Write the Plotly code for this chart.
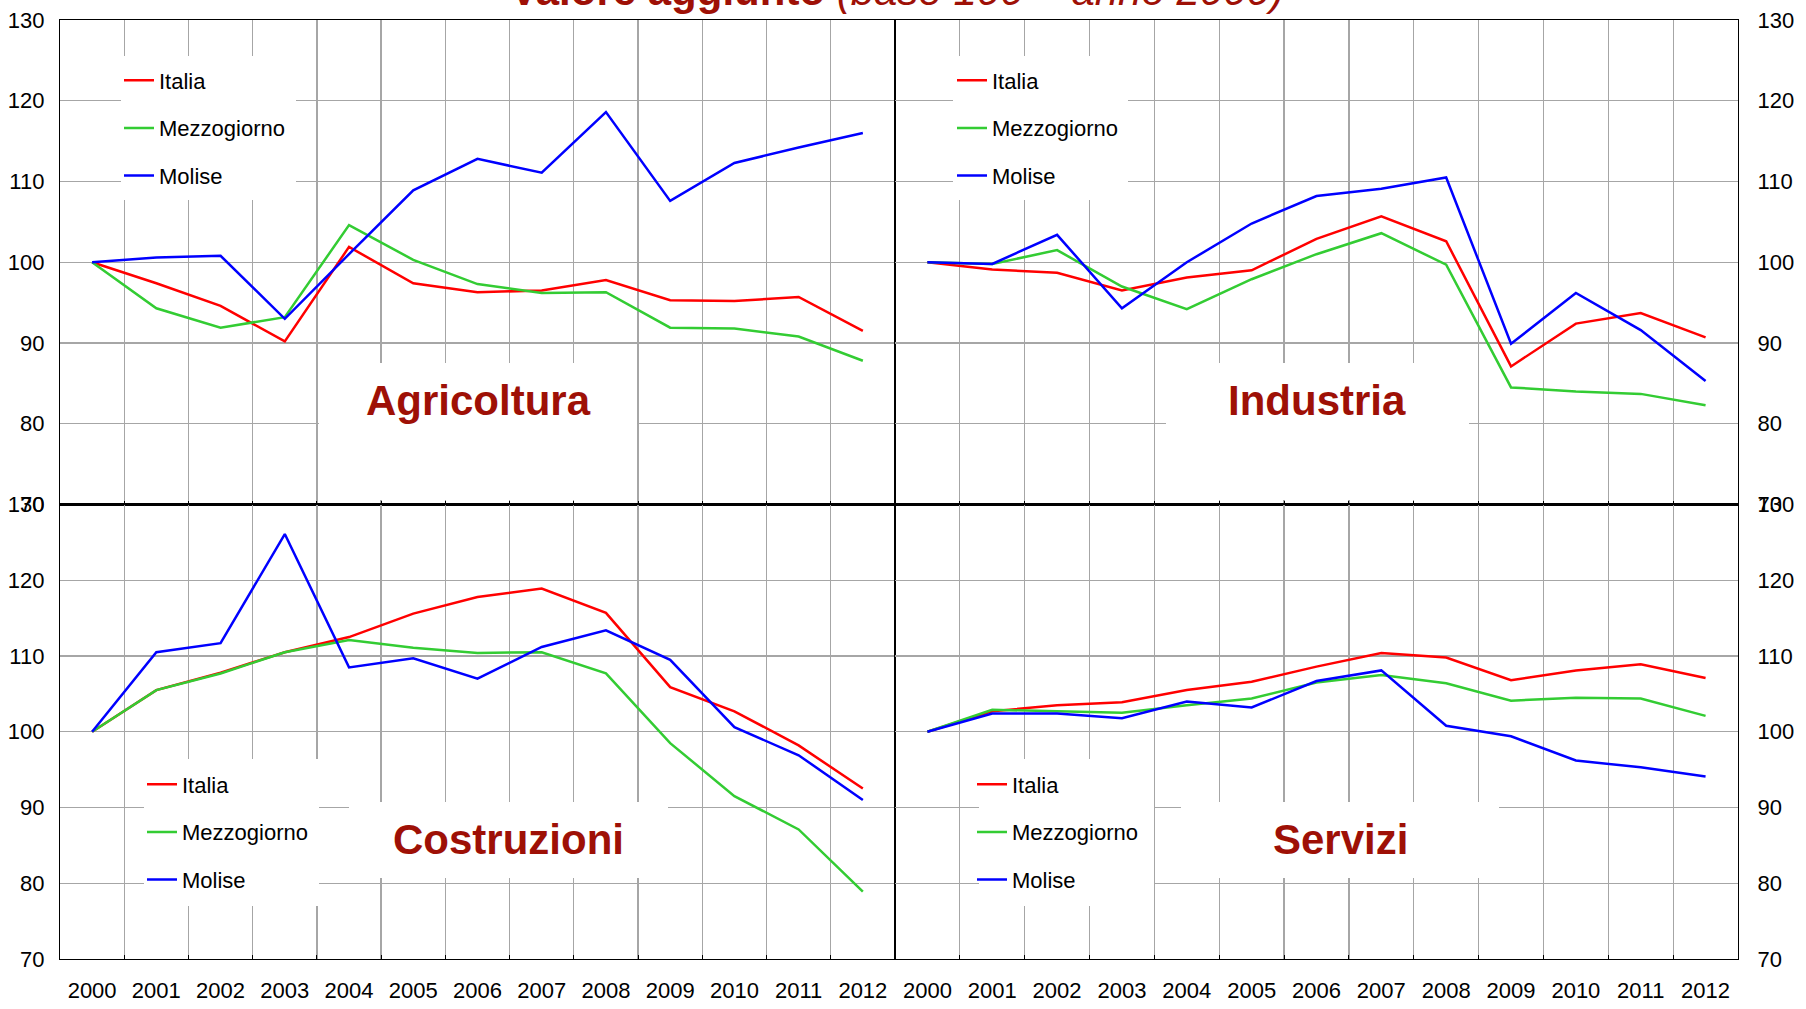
import plotly.graph_objects as go
from plotly.subplots import make_subplots

years = ["2000", "2001", "2002", "2003", "2004", "2005", "2006",
         "2007", "2008", "2009", "2010", "2011", "2012"]
series_names = ["Italia", "Mezzogiorno", "Molise"]
panel_titles = ["Agricoltura", "Industria", "Costruzioni", "Servizi"]
y_ticks = [70, 80, 90, 100, 110, 120, 130]

agr_italia = [100, 97.4, 94.6, 90.2, 101.9, 97.4, 96.3, 96.5, 97.8, 95.3, 95.2, 95.7, 91.5]
agr_mezzogiorno = [100, 94.3, 91.9, 93.2, 104.6, 100.3, 97.3, 96.2, 96.3, 91.9, 91.8, 90.8, 87.8]
agr_molise = [100, 100.6, 100.8, 93.0, 101.0, 108.9, 112.8, 111.1, 118.6, 107.6, 112.3, 114.2, 116.0]

ind_italia = [100, 99.1, 98.7, 96.5, 98.1, 99.0, 102.9, 105.7, 102.6, 87.1, 92.4, 93.7, 90.7]
ind_mezzogiorno = [100, 99.8, 101.5, 97.0, 94.2, 97.9, 101.0, 103.6, 99.7, 84.5, 84.0, 83.7, 82.3]
ind_molise = [100, 99.8, 103.4, 94.3, 100.0, 104.8, 108.2, 109.1, 110.5, 89.9, 96.2, 91.6, 85.3]

cos_italia = [100, 105.5, 107.8, 110.5, 112.5, 115.6, 117.8, 118.9, 115.7, 105.9, 102.7, 98.2, 92.5]
cos_mezzogiorno = [100, 105.5, 107.7, 110.5, 112.1, 111.1, 110.4, 110.5, 107.7, 98.5, 91.5, 87.1, 78.9]
cos_molise = [100, 110.5, 111.7, 126.1, 108.5, 109.7, 107.0, 111.2, 113.4, 109.5, 100.6, 96.9, 91.0]

ser_italia = [100, 102.7, 103.5, 103.9, 105.5, 106.6, 108.6, 110.4, 109.8, 106.8, 108.1, 108.9, 107.1]
ser_mezzogiorno = [100, 102.9, 102.7, 102.5, 103.5, 104.4, 106.5, 107.5, 106.4, 104.1, 104.5, 104.4, 102.1]
ser_molise = [100, 102.4, 102.4, 101.8, 104.0, 103.2, 106.7, 108.1, 100.8, 99.4, 96.2, 95.3, 94.1]

panels = [
    [agr_italia, agr_mezzogiorno, agr_molise],
    [ind_italia, ind_mezzogiorno, ind_molise],
    [cos_italia, cos_mezzogiorno, cos_molise],
    [ser_italia, ser_mezzogiorno, ser_molise],
]

colors = ["#FF0000", "#33CC33", "#0000FF"]
label_color = "#9E1006"
grid_color = "#A6A6A6"
FONT = "Liberation Sans, Arial, sans-serif"

W, H = 1806, 1009
ML, MR, MT, MB = 60, 68, 20, 50
PW, PH = W - ML - MR, H - MT - MB


def px(x):
    return (x - ML) / PW


def py(y):
    return (H - MB - y) / PH


fig = make_subplots(rows=2, cols=2, horizontal_spacing=0, vertical_spacing=0,
                    column_widths=[0.4976, 0.5024], row_heights=[0.516, 0.484])

legend_ids = ["legend", "legend2", "legend3", "legend4"]
positions = [(1, 1), (1, 2), (2, 1), (2, 2)]
for p, (r, c) in enumerate(positions):
    for s, name in enumerate(series_names):
        fig.add_trace(go.Scatter(
            x=years, y=panels[p][s], mode="lines", name=name,
            line=dict(color=colors[s], width=2.5),
            legend=legend_ids[p], legendgroup=f"{panel_titles[p]}-{name}",
            hoverinfo="skip"), row=r, col=c)

for p, (r, c) in enumerate(positions):
    fig.update_xaxes(type="category", range=[-0.5, 12.5], tickson="boundaries",
                     showgrid=True, gridcolor=grid_color, gridwidth=1.3,
                     ticks="inside", ticklen=4, tickcolor="black",
                     showline=True, linecolor="black", linewidth=1.2, mirror=True,
                     showticklabels=(r == 2), ticklabelstandoff=11,
                     tickfont=dict(family=FONT, size=22, color="black"),
                     automargin=False, zeroline=False, row=r, col=c)
    fig.update_yaxes(range=[70, 130], tickvals=y_ticks, showgrid=True,
                     gridcolor=grid_color, gridwidth=1.3, ticks="",
                     showline=True, linecolor="black", linewidth=1.2, mirror=True,
                     side="left" if c == 1 else "right",
                     ticklabelstandoff=10 if c == 1 else 14,
                     tickfont=dict(family=FONT, size=22, color="black"),
                     automargin=False, zeroline=False, row=r, col=c)

# white boxes behind legends and panel labels (pixel coordinates)
boxes = [
    (121, 56, 296, 200), (953, 56, 1128, 200),
    (144, 759, 319, 906), (979, 759, 1154, 906),
    (319, 363, 637, 500), (1166, 363, 1469, 500),
    (349, 802, 668, 878), (1181, 802, 1499, 878),
]
for x0, y0, x1, y1 in boxes:
    fig.add_shape(type="rect", xref="paper", yref="paper",
                  x0=px(x0), x1=px(x1), y0=py(y1), y1=py(y0),
                  fillcolor="white", line=dict(width=0), layer="above")

label_pos = [(478, 400), (1317, 400), (508, 839), (1340, 839)]
for t, (lx, ly) in zip(panel_titles, label_pos):
    fig.add_annotation(text=f"<b>{t}</b>", xref="paper", yref="paper",
                       x=px(lx), y=py(ly), xanchor="center", yanchor="middle",
                       showarrow=False,
                       font=dict(family=FONT, size=42, color=label_color))

fig.add_annotation(text="<b>Valore aggiunto</b> <i>(base 100 = anno 2000)</i>",
                   xref="paper", yref="paper", x=px(897), y=py(-10),
                   xanchor="center", yanchor="middle", showarrow=False,
                   font=dict(family=FONT, size=42, color=label_color))

legend_pos = [(119, 59.5), (952, 59.5), (142, 763.5), (972, 763.5)]
leg_layout = {}
for lid, (lx, ly) in zip(legend_ids, legend_pos):
    leg_layout[lid] = dict(x=px(lx), y=py(ly), xanchor="left", yanchor="top",
                           bgcolor="rgba(0,0,0,0)", borderwidth=0,
                           tracegroupgap=16, traceorder="grouped",
                           font=dict(family=FONT, size=22, color="black"))

fig.update_layout(
    width=W, height=H,
    margin=dict(l=ML, r=MR, t=MT, b=MB, pad=0, autoexpand=False),
    paper_bgcolor="white", plot_bgcolor="white",
    font=dict(family=FONT, size=22, color="black"),
    showlegend=True,
    **leg_layout,
)

fig.write_html("out.html",
               config={"displayModeBar": False, "staticPlot": True},
               post_script="document.body.style.margin='0px';"
                           "document.body.style.overflow='hidden';")
